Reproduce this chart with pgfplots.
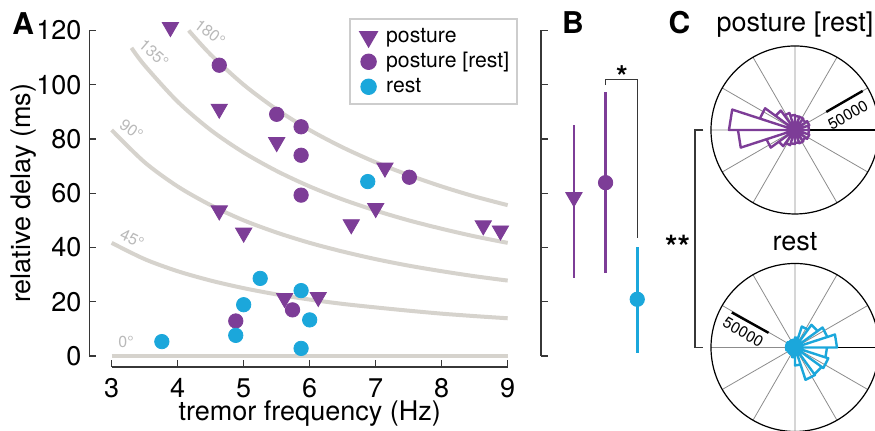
\documentclass[border=0pt]{standalone}
\usepackage{fontspec}
\setmainfont{TeX Gyre Heros}
\usepackage{pgfplots}
\pgfplotsset{compat=1.18}
\usepgfplotslibrary{polar}

\definecolor{ppl}{RGB}{125,61,151}
\definecolor{blu}{RGB}{27,167,219}
\definecolor{crv}{RGB}{214,211,205}
\definecolor{crvtxt}{RGB}{185,185,185}
\definecolor{lgd}{RGB}{205,205,205}
\definecolor{axs}{RGB}{55,55,55}

\newcommand{\fbig}{\fontsize{13.5}{16}\selectfont}
\newcommand{\fsmall}{\fontsize{8}{9.6}\selectfont}
\newcommand{\fscale}{\fontsize{7.8}{9}\selectfont}
\newcommand{\fletter}{\bfseries\fontsize{15}{18}\selectfont}

\pgfplotsset{
  lgimg/.style={legend image code/.code={\path (-4.75pt,0pt) (8.3pt,0pt); \draw[##1] plot coordinates {(0pt,0pt)};}},
  tri/.style={ppl, only marks, mark=triangle*, mark size=4.7pt, mark options={rotate=180, fill=ppl, draw=ppl}},
  pdot/.style={ppl, only marks, mark=*, mark size=3.6pt, mark options={fill=ppl, draw=ppl}},
  bdot/.style={blu, only marks, mark=*, mark size=3.6pt, mark options={fill=blu, draw=blu}},
  rosepolar/.style={anchor=center, width=84pt, height=84pt, scale only axis,
    ymin=0, ymax=100000, xtick={0,30,...,330}, xticklabels={}, ytick=\empty,
    scaled y ticks=false, xmajorgrids=true, ymajorgrids=false,
    major grid style={black!45, line width=0.4pt},
    axis line style={black, line width=0.6pt}, major tick length=0pt, clip=false},
}

\begin{document}
\begin{tikzpicture}
\path[use as bounding box] (0,0) rectangle (437.5pt,215.5pt);
\clip (0,0) rectangle (437.5pt,215.5pt);

% ---- A ----
\begin{axis}[
  at={(44.65pt,32pt)}, anchor=south west,
  width=209.2pt, height=168.25pt, scale only axis,
  xmin=2.661, xmax=9, ymin=-4.06, ymax=120,
  axis lines=left,
  axis line style={-, axs, line width=0.6pt},
  x axis line style={shorten <=11.2pt},
  y axis line style={shorten <=5.5pt},
  xtick={3,...,9}, ytick={0,20,...,120},
  tick align=inside, major tick length=3.6pt,
  tick style={axs, line width=0.6pt},
  tick label style={font=\fbig},
  /pgf/number format/assume math mode=true,
  xticklabel style={inner sep=0pt, yshift=-5.6pt},
  yticklabel style={inner sep=0pt, xshift=-3.8pt},
  xlabel={tremor frequency (Hz)},
  xlabel style={at={(axis description cs:0.5268,0)}, anchor=base, yshift=-26.85pt, font=\fbig},
  ylabel={relative delay (ms)},
  ylabel style={at={(axis description cs:-0.1567,0.5163)}, anchor=center, font=\fbig},
  clip=false,
  legend cell align=left,
  legend style={at={(axis description cs:1.0253,1.0363)}, anchor=north east,
    draw=lgd, line width=1pt, inner xsep=4pt, inner ysep=2.5pt, font=\fontsize{10.6}{12.5}\selectfont,
    nodes={inner xsep=0pt, inner ysep=1pt, text height=8pt, text depth=2.5pt}},
]
\addplot[crv, line width=2pt, smooth, forget plot] coordinates {
 (3,0) (9,0)};
\addplot[crv, line width=2pt, smooth, forget plot] coordinates {
 (3,41.7) (3.5,35.7) (4,31.25) (4.5,27.8) (5,25) (5.5,22.7) (6,20.8) (6.5,19.2) (7,17.9) (7.5,16.7) (8,15.6) (8.5,14.7) (9,13.9)};
\addplot[crv, line width=2pt, smooth, forget plot] coordinates {
 (3,83.3) (3.5,71.4) (4,62.5) (4.5,55.6) (5,50) (5.5,45.5) (6,41.7) (6.5,38.5) (7,35.7) (7.5,33.3) (8,31.25) (8.5,29.4) (9,27.8)};
\addplot[crv, line width=2pt, smooth, forget plot] coordinates {
 (3.3,113.6) (3.5,107.1) (4,93.75) (4.5,83.3) (5,75) (5.5,68.2) (6,62.5) (6.5,57.7) (7,53.6) (7.5,50) (8,46.9) (8.5,44.1) (9,41.7)};
\addplot[crv, line width=2pt, smooth, forget plot] coordinates {
 (4.167,120) (4.5,111.1) (5,100) (5.5,90.9) (6,83.3) (6.5,76.9) (7,71.4) (7.5,66.7) (8,62.5) (8.5,58.8) (9,55.6)};
\node[crvtxt, font=\fsmall, rotate=-37] at (axis cs:4.49,119.2) {180°};
\node[crvtxt, font=\fsmall, rotate=-41] at (axis cs:3.64,111.6) {135°};
\node[crvtxt, font=\fsmall, rotate=-35] at (axis cs:3.30,83.3) {90°};
\node[crvtxt, font=\fsmall, rotate=-25] at (axis cs:3.31,43.2) {45°};
\node[crvtxt, font=\fsmall] at (axis cs:3.218,5.2) {0°};

\addplot[tri, lgimg] coordinates {
 (3.89,121.2) (4.63,91.1) (5.50,78.8) (4.63,53.6) (5.00,45.4) (7.14,69.4)
 (7.00,54.5) (6.63,48.5) (8.63,48.1) (8.89,46.2) (5.62,21.3) (6.13,21.7)};
\addlegendentry{posture}
\addplot[pdot, lgimg] coordinates {
 (4.63,107.2) (5.50,89.1) (5.87,84.5) (5.87,74.0) (5.87,59.3) (7.51,65.9) (5.74,17.0) (4.88,12.9)};
\addlegendentry{posture [rest]}
\addplot[bdot, lgimg] coordinates {
 (3.76,5.3) (4.88,7.6) (5.00,18.9) (5.25,28.6) (5.87,24.1) (6.00,13.3) (5.87,2.8) (6.88,64.3)};
\addlegendentry{rest}
\end{axis}

% ---- B ----
\begin{axis}[
  at={(270.5pt,37.5pt)}, anchor=south west,
  width=63.95pt, height=162.75pt, scale only axis,
  xmin=-0.04, xmax=4, ymin=0, ymax=120,
  axis x line=none, axis y line=left,
  axis line style={-, axs, line width=0.6pt},
  xtick=\empty, ytick={0,20,...,120}, yticklabels={},
  tick align=inside, major tick length=3.6pt,
  tick style={axs, line width=0.6pt},
  clip=false,
]
\addplot[tri, error bars/.cd, y dir=both, y explicit, error mark=none,
  error bar style={line width=1.35pt, ppl}]
  coordinates {(1,58.5) += (0,26.7) -= (0,29.9)};
\addplot[pdot, error bars/.cd, y dir=both, y explicit, error mark=none,
  error bar style={line width=1.35pt, ppl}]
  coordinates {(2,63.9) += (0,33.3) -= (0,33.4)};
\addplot[bdot, error bars/.cd, y dir=both, y explicit, error mark=none,
  error bar style={line width=1.35pt, blu}]
  coordinates {(3,20.9) += (0,19.4) -= (0,19.7)};
\draw[axs, line width=0.6pt] (axis cs:2,99.9) -- (axis cs:2,102) -- (axis cs:3,102) -- (axis cs:3,43.4);
\end{axis}

% ---- C ----
\begin{polaraxis}[rosepolar, at={(397.5pt,150.5pt)}]
\addplot[ppl, line width=1.2pt, line join=round, no marks] coordinates {
 (0,0) (0,16700) (18,16700)
 (0,0) (18,17900) (36,17900)
 (0,0) (36,15500) (54,15500)
 (0,0) (54,16700) (72,16700)
 (0,0) (72,16700) (90,16700)
 (0,0) (90,17900) (108,17900)
 (0,0) (108,21400) (126,21400)
 (0,0) (126,28600) (144,28600)
 (0,0) (144,44000) (162,44000)
 (0,0) (162,78600) (180,78600)
 (0,0) (180,67900) (198,67900)
 (0,0) (198,35700) (216,35700)
 (0,0) (216,23800) (234,23800)
 (0,0) (234,19000) (252,19000)
 (0,0) (252,16700) (270,16700)
 (0,0) (270,15500) (288,15500)
 (0,0) (288,16700) (306,16700)
 (0,0) (306,15500) (324,15500)
 (0,0) (324,17900) (342,17900)
 (0,0) (342,16700) (360,16700)
 (0,0)};
\draw[black, line width=1.2pt] (axis cs:30,43000) -- (axis cs:30,93000);
\node[rotate=30, font=\fscale] at (axis cs:15.7,65500) {50000};
\end{polaraxis}

\begin{polaraxis}[rosepolar, at={(397.5pt,41.75pt)}]
\addplot[blu, line width=1.2pt, line join=round, no marks] coordinates {
 (0,0) (0,50000) (18,50000)
 (0,0) (18,40500) (36,40500)
 (0,0) (36,33300) (54,33300)
 (0,0) (54,26200) (72,26200)
 (0,0) (72,11900) (90,11900)
 (0,0) (90,9500) (108,9500)
 (0,0) (108,9500) (126,9500)
 (0,0) (126,9500) (144,9500)
 (0,0) (144,10700) (162,10700)
 (0,0) (162,10700) (180,10700)
 (0,0) (180,10700) (198,10700)
 (0,0) (198,9500) (216,9500)
 (0,0) (216,9500) (234,9500)
 (0,0) (234,9500) (252,9500)
 (0,0) (252,11900) (270,11900)
 (0,0) (270,21400) (288,21400)
 (0,0) (288,40500) (306,40500)
 (0,0) (306,39300) (324,39300)
 (0,0) (324,41700) (342,41700)
 (0,0) (342,38100) (360,38100)
 (0,0)};
\draw[black, line width=1.2pt] (axis cs:151,36000) -- (axis cs:151,86000);
\node[rotate=-30, font=\fscale] at (axis cs:163.5,64300) {50000};
\end{polaraxis}

% ---- annotations ----
\node[anchor=base west, inner sep=0pt, font=\fletter] at (5.95pt,198pt) {A};
\node[anchor=base west, inner sep=0pt, font=\fletter] at (280.85pt,198.85pt) {B};
\node[anchor=base west, inner sep=0pt, font=\fletter] at (334.15pt,198.85pt) {C};
\node[anchor=base, inner sep=0pt, font=\fbig] at (397.5pt,199.65pt) {posture [rest]};
\node[anchor=base, inner sep=0pt, font=\fbig] at (397.5pt,90.15pt) {rest};
\node[anchor=base, inner sep=0pt, font=\bfseries\fontsize{16}{18}\selectfont] at (338.75pt,86.3pt) {**};
\node[anchor=base, inner sep=0pt, font=\bfseries\fontsize{15}{18}\selectfont] at (311pt,171.5pt) {*};
\draw[axs, line width=0.6pt] (351.65pt,150.5pt) -- (347.5pt,150.5pt) -- (347.5pt,41.85pt) -- (351.65pt,41.85pt);
\end{tikzpicture}
\end{document}
